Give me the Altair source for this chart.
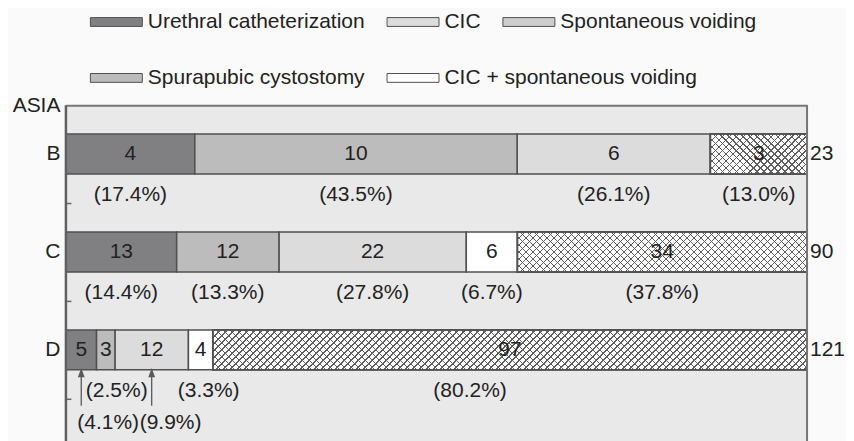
import altair as alt
import pandas as pd

# ---- data ----
rows = ["B", "C", "D"]
methods = ["Urethral catheterization", "Spurapubic cystostomy", "CIC",
           "CIC + spontaneous voiding", "Spontaneous voiding"]  # stacking order
counts_B = [4, 10, 6, 0, 3]
counts_C = [13, 12, 22, 6, 34]
counts_D = [5, 3, 12, 4, 97]
pct_B = ["(17.4%)", "(43.5%)", "(26.1%)", "", "(13.0%)"]
pct_C = ["(14.4%)", "(13.3%)", "(27.8%)", "(6.7%)", "(37.8%)"]
pct_D = ["(4.1%)", "(2.5%)", "(9.9%)", "(3.3%)", "(80.2%)"]
totals = [23, 90, 121]
legend_row1 = ["Urethral catheterization", "CIC", "Spontaneous voiding"]
legend_row2 = ["Spurapubic cystostomy", "CIC + spontaneous voiding"]

# ---- styling / layout ----
fills = {"Urethral catheterization": "#808082", "CIC": "#dcdcdc",
         "Spontaneous voiding": "#cdcdcd", "Spurapubic cystostomy": "#bcbcbc",
         "CIC + spontaneous voiding": "#ffffff"}
FONT = "Liberation Sans"
FS = 21
W = 742
H = 337
STEP = 98
BAR_H = 40
PAD_OUT = (H / STEP - 3) / 2
TXT = "#222222"
EDGE = "#505050"
FRAME = "#767676"

# second-line labels with arrows (left aligned, px shift) and px nudges of other labels
lower_labels = {("D", "Urethral catheterization"): -4, ("D", "CIC"): -12}
nudges = {("D", "Spurapubic cystostomy"): 11, ("D", "CIC + spontaneous voiding"): 8,
          ("D", "Spontaneous voiding"): -40}

records = []
for row, cnts, pcts in zip(rows, [counts_B, counts_C, counts_D], [pct_B, pct_C, pct_D]):
    tot = sum(cnts)
    cum = 0
    for m, c, p in zip(methods, cnts, pcts):
        if c == 0:
            continue
        s = cum / tot
        cum += c
        e = cum / tot
        mid = (s + e) / 2
        key = (row, m)
        lower = key in lower_labels
        shift = lower_labels.get(key, nudges.get(key, 0))
        records.append(dict(row=row, method=m, count=c, pct=p, start=s, end=e, mid=mid,
                            lower=lower, lx=mid + shift / W))
df = pd.DataFrame(records)
tot_df = pd.DataFrame({"row": rows, "total": totals, "xpos": [1.0] * len(rows)})
edge_df = pd.DataFrame({"xpos": [0.0, 1.0], "side": ["left", "right"]})

xs = alt.Scale(domain=[0, 1], nice=False, zero=False)
ys = alt.Scale(domain=rows, paddingInner=0, paddingOuter=PAD_OUT, align=0)

x_axis = alt.Axis(orient="top", labels=False, ticks=False, title=None, grid=False,
                  domainColor=FRAME, domainWidth=2)
y_axis = alt.Axis(title="ASIA", titleAngle=0, titleAlign="right", titleBaseline="middle",
                  titleX=-11, titleY=0, titleFontSize=FS, titleFontWeight="normal",
                  titleFont=FONT, titleColor=TXT,
                  labelFontSize=FS, labelFont=FONT, labelColor=TXT,
                  bandPosition=1, tickSize=5, tickColor="#666666",
                  tickWidth=1.5, offset=-5, domain=False, labelPadding=6, grid=False)

base = alt.Chart(df)
X_BAR = alt.X("start:Q", scale=xs, axis=x_axis)
Y_ROW = alt.Y("row:N", scale=ys)
BAR = dict(height={"band": BAR_H / STEP}, stroke=EDGE, strokeWidth=1.5)


def xq(field):
    return alt.X(field, scale=xs, axis=x_axis)


def legend_for(y_off):
    return alt.Legend(title=None, orient="none", legendX=37, legendY=y_off,
                      direction="horizontal", gridAlign="each",
                      symbolType="M-2,-0.34H2V0.34H-2Z", symbolSize=676,
                      symbolStrokeColor=EDGE, symbolStrokeWidth=1,
                      labelFontSize=FS, labelFont=FONT, labelColor=TXT,
                      labelOffset=18, columnPadding=19, labelLimit=400, padding=0)


def in_set(names):
    return "indexof([" + ",".join(f"'{n}'" for n in names) + "], datum.method) >= 0"


bars1 = base.transform_filter(in_set(legend_row1)).mark_bar(**BAR).encode(
    x=X_BAR, x2="end:Q",
    y=alt.Y("row:N", scale=ys, axis=y_axis, sort=rows),
    fill=alt.Fill("method:N",
                  scale=alt.Scale(domain=legend_row1, range=[fills[n] for n in legend_row1]),
                  legend=legend_for(-97)),
)
bars2 = base.transform_filter(in_set(legend_row2)).mark_bar(**BAR).encode(
    x=X_BAR, x2="end:Q", y=Y_ROW,
    fill=alt.Fill("method:N",
                  scale=alt.Scale(domain=legend_row2, range=[fills[n] for n in legend_row2]),
                  legend=legend_for(-41)),
)


def hatch(width_px, height_px, rising, period=7.0, line=1.3, color="#5e5e5e", bg="#ffffff"):
    """Linear gradient with hard stops drawing 45-degree lines across one bar."""
    r = height_px / width_px
    span = (width_px + height_px) * (1 + r * r)
    n = max(2, int(round(span / period)))
    a = line / period
    stops = []
    for k in range(n):
        t0 = k / n
        t1 = (k + a) / n
        stops += [{"offset": t0, "color": color}, {"offset": t1, "color": color},
                  {"offset": t1, "color": bg}, {"offset": (k + 1) / n, "color": bg}]
    if rising:
        return {"gradient": "linear", "x1": 0, "y1": 1, "x2": 1 + r, "y2": 1 - r * (1 + r),
                "stops": stops}
    return {"gradient": "linear", "x1": 0, "y1": 0, "x2": 1 + r, "y2": r * (1 + r),
            "stops": stops}


# crosshatch for "Spontaneous voiding" segments (two crossing line sets)
hatch_layers = []
for rec in records:
    if rec["method"] != "Spontaneous voiding":
        continue
    wpx = (rec["end"] - rec["start"]) * W
    one = base.transform_filter(
        f"datum.row == '{rec['row']}' && datum.method == 'Spontaneous voiding'")
    g1 = hatch(wpx, BAR_H, True)
    g2 = hatch(wpx, BAR_H, False, bg="rgba(255,255,255,0)")
    hatch_layers.append(one.mark_bar(fill=g1, **BAR).encode(x=X_BAR, x2="end:Q", y=Y_ROW))
    hatch_layers.append(one.mark_bar(fill=g2, **BAR).encode(x=X_BAR, x2="end:Q", y=Y_ROW))

frame = alt.Chart(edge_df).mark_rule().encode(
    x=xq("xpos:Q"),
    color=alt.Color("side:N", scale=alt.Scale(domain=["left", "right"],
                                              range=["#606060", FRAME]), legend=None),
    strokeWidth=alt.StrokeWidth("side:N", scale=alt.Scale(domain=["left", "right"],
                                                          range=[2.5, 2]), legend=None),
)

count_text = base.mark_text(font=FONT, fontSize=FS, color=TXT, baseline="middle").encode(
    x=xq("mid:Q"), y=Y_ROW, text="count:Q")

pct_upper = base.transform_filter("!datum.lower").mark_text(
    font=FONT, fontSize=FS, color=TXT, baseline="middle", dy=41).encode(
    x=xq("lx:Q"), y=Y_ROW, text="pct:N")

pct_lower = base.transform_filter("datum.lower").mark_text(
    font=FONT, fontSize=FS, color=TXT, baseline="middle", align="left", dy=73).encode(
    x=xq("lx:Q"), y=Y_ROW, text="pct:N")

arrows = base.transform_filter("datum.lower").mark_point(
    shape="M0,-1L0,1M-0.14,-0.62L0,-1L0.14,-0.62Z", size=36 * 36, filled=True,
    fill="#5a5a5a", stroke="#5a5a5a", strokeWidth=1.3, opacity=1, yOffset=38).encode(
    x=xq("mid:Q"), y=Y_ROW)

total_text = alt.Chart(tot_df).mark_text(font=FONT, fontSize=FS, color=TXT,
                                         baseline="middle", align="left", dx=3).encode(
    x=xq("xpos:Q"), y=Y_ROW, text="total:Q")

chart = alt.layer(bars1, bars2, *hatch_layers, frame, count_text, pct_upper, pct_lower,
                  arrows, total_text).resolve_scale(fill="independent").properties(
    width=W, height=H, background="#fafafa",
    padding={"left": 4, "top": 0, "right": 0, "bottom": 0},
).configure_view(fill="#e9e9e9", stroke=None)

chart.save("out.html", embed_options={"renderer": "svg", "actions": False})
